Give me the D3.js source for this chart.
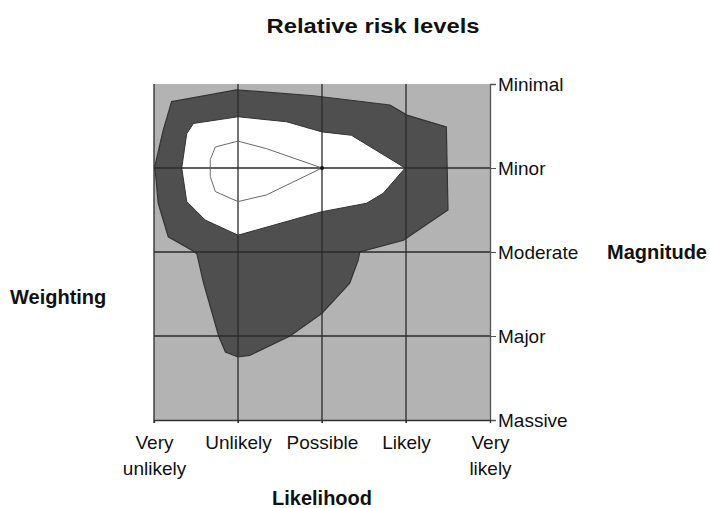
<!DOCTYPE html>
<html><head><meta charset="utf-8">
<script src="https://cdn.jsdelivr.net/npm/d3@7/dist/d3.min.js"></script>
<style>body{margin:0;background:#fff}svg{display:block}text{font-family:"Liberation Sans",Arial,sans-serif;fill:#111}</style>
</head><body>
<svg id="c" width="710" height="508"></svg>
<script>
// Category labels
const likelihoodLabels = [["Very","unlikely"],["Unlikely"],["Possible"],["Likely"],["Very","likely"]];
const magnitudeLabels = ["Minimal","Minor","Moderate","Major","Massive"];
// Polygons in data units: x = likelihood index (0..4), y = magnitude index (0 = Minimal .. 4 = Massive)
const outerX = [0.21,0.98,1.90,2.81,3.01,3.48,3.50,2.97,2.45,2.43,2.33,2.00,1.62,1.14,1.00,0.85,0.77,0.59,0.51,0.45,0.17,0.05,0.01,0.11];
const outerY = [0.21,0.07,0.14,0.25,0.37,0.51,1.50,1.86,2.00,2.10,2.37,2.73,3.00,3.23,3.25,3.19,3.00,2.37,2.02,1.98,1.82,1.42,0.98,0.55];
const innerX = [0.47,1.00,1.58,2.00,2.35,2.99,2.73,2.53,2.00,1.78,1.00,0.61,0.39,0.33,0.39];
const innerY = [0.47,0.39,0.45,0.57,0.61,1.00,1.30,1.42,1.52,1.58,1.80,1.62,1.40,1.00,0.59];
const coreX = [2.00,1.34,1.00,0.73,0.67,0.67,0.73,1.00,1.34];
const coreY = [1.00,0.77,0.68,0.75,0.90,1.10,1.28,1.40,1.32];
const corePoint = [2.0, 1.0];

const svg = d3.select("#c");
const x = d3.scaleLinear().domain([0,4]).range([154,490]);
const y = d3.scaleLinear().domain([0,4]).range([84,420]);
const FS = 19;

svg.append("rect").attr("x",x(0)).attr("y",y(0)).attr("width",x(4)-x(0)).attr("height",y(4)-y(0)).attr("fill","#b3b3b3");

const line = d3.line().x(d=>x(d[0])).y(d=>y(d[1])).curve(d3.curveLinearClosed);
const pts = (xs,ys)=>xs.map((v,i)=>[v,ys[i]]);

svg.append("path").attr("d",line(pts(outerX,outerY))).attr("fill","#4f4f4f").attr("stroke","#333").attr("stroke-width",1.2);
svg.append("path").attr("d",line(pts(innerX,innerY))).attr("fill","#ffffff").attr("stroke","#333").attr("stroke-width",1);

// grid
const g = svg.append("g");
[0,1,2,3].forEach(i=>{
  g.append("line").attr("x1",x(i)).attr("x2",x(i)).attr("y1",y(0)).attr("y2",y(4)+3).attr("stroke","#2a2a2a").attr("stroke-width",1.3);
});
[1,2,3].forEach(i=>{
  g.append("line").attr("x1",x(0)).attr("x2",x(4)).attr("y1",y(i)).attr("y2",y(i)).attr("stroke","#2a2a2a").attr("stroke-width",1.3);
});

svg.append("path").attr("d",line(pts(coreX,coreY))).attr("fill","none").attr("stroke","#6a6a6a").attr("stroke-width",1);
svg.append("circle").attr("cx",x(corePoint[0])).attr("cy",y(corePoint[1])).attr("r",2).attr("fill","#111");

// right axis
const ya = d3.axisRight(y).tickValues([0,1,2,3,4]).tickFormat(i=>magnitudeLabels[i]).tickSize(6).tickPadding(2);
const yg = svg.append("g").attr("transform",`translate(${x(4)},0)`).call(ya);
yg.select(".domain").attr("stroke","#555").attr("stroke-width",1.3);
yg.selectAll(".tick line").attr("stroke","#555");
yg.selectAll("text").attr("font-size",FS).attr("font-family","Liberation Sans, Arial, sans-serif").attr("fill","#111").attr("dy","0.35em");

// bottom axis
const xa = d3.axisBottom(x).tickValues([0,1,2,3,4]).tickFormat("").tickSize(3);
const xg = svg.append("g").attr("transform",`translate(0,${y(4)})`).call(xa);
xg.select(".domain").attr("stroke","#333").attr("stroke-width",1.3);
xg.selectAll(".tick line").attr("stroke","#333");
xg.selectAll(".tick").each(function(d){
  const t = d3.select(this).append("text").attr("text-anchor","middle").attr("font-size",FS).attr("fill","#111")
    .attr("font-family","Liberation Sans, Arial, sans-serif");
  likelihoodLabels[d].forEach((s,k)=>t.append("tspan").attr("x",0).attr("y",29+k*26).text(s));
});

svg.append("text").attr("x",373).attr("y",33).attr("text-anchor","middle").attr("font-size",21).attr("font-weight","bold").attr("textLength",213).attr("lengthAdjust","spacingAndGlyphs").text("Relative risk levels");
svg.append("text").attr("x",322).attr("y",505).attr("text-anchor","middle").attr("font-size",FS+1).attr("font-weight","bold").text("Likelihood");
svg.append("text").attr("x",607).attr("y",259).attr("font-size",FS+1).attr("font-weight","bold").text("Magnitude");
svg.append("text").attr("x",10).attr("y",304).attr("font-size",FS+1).attr("font-weight","bold").text("Weighting");
</script>
</body></html>
